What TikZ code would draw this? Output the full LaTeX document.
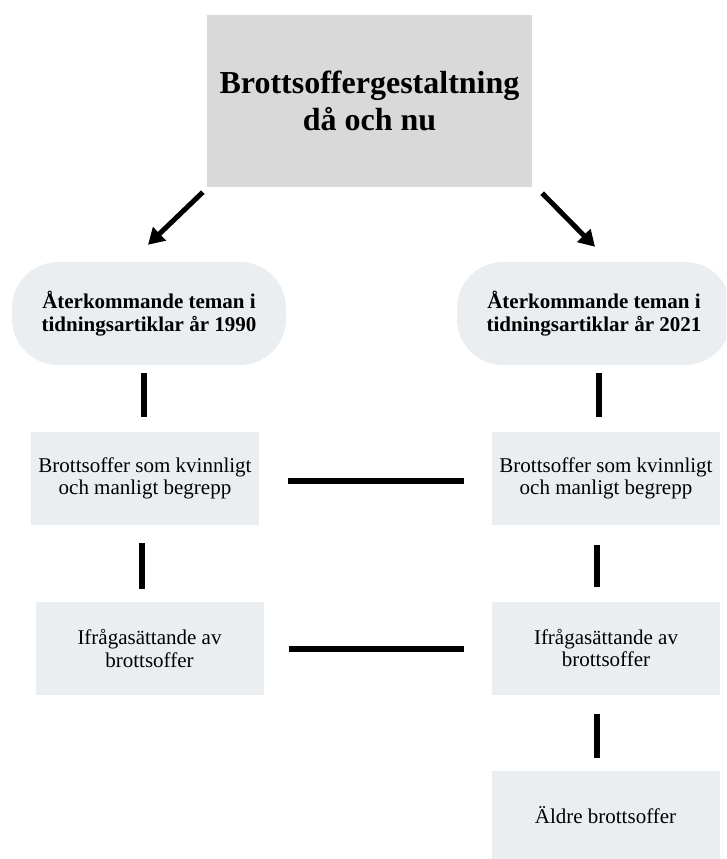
\documentclass[tikz,border=0pt]{standalone}
\usepackage{fontspec}
\setmainfont{Liberation Serif}
\usetikzlibrary{arrows.meta}
\definecolor{topgray}{RGB}{217,217,217}
\definecolor{lightbox}{RGB}{235,238,241}
\tikzset{
  titlebox/.style={fill=topgray, inner sep=0pt, minimum width=325pt, minimum height=172pt,
    align=center, font=\fontsize{32}{37}\selectfont\bfseries},
  pillbox/.style={fill=lightbox, rounded corners=46pt, inner sep=0pt, minimum width=274pt,
    minimum height=103pt, align=center, font=\fontsize{21}{22.5}\selectfont\bfseries},
  themebox/.style={fill=lightbox, inner sep=0pt, minimum width=228pt, minimum height=93pt,
    align=center, font=\fontsize{21}{22.5}\selectfont},
  conn/.style={line width=6pt},
  arr/.style={line width=5pt, -{Triangle[length=16pt,width=18pt]}}
}
\begin{document}
\begin{tikzpicture}[x=1pt,y=-1pt]
\useasboundingbox (0,0) rectangle (726,859);
\clip (0,0) rectangle (726,859);
\node[titlebox] (top) at (369.5,101) {Brottsoffergestaltning\\då och nu};
\node[pillbox] (L1) at (149,313.5) {Återkommande teman i\\tidningsartiklar år 1990};
\node[pillbox] (R1) at (594,313.5) {Återkommande teman i\\tidningsartiklar år 2021};
\node[themebox] (L2) at (145,478.5) {Brottsoffer som kvinnligt\\och manligt begrepp};
\node[themebox] (L3) at (149.5,648.5) {Ifrågasättande av\\brottsoffer};
\node[themebox] (R2) at (606,478.5) {Brottsoffer som kvinnligt\\och manligt begrepp};
\node[themebox] (R3) at (606,648) {Ifrågasättande av\\brottsoffer};
\node[themebox, minimum height=88pt] (R4) at (605.5,815) {Äldre brottsoffer};
% arrows from title
\draw[arr] ([xshift=-4pt,yshift=-5pt]top.south west) -- ([xshift=-1pt,yshift=17pt]L1.north);
\draw[arr] ([xshift=10pt,yshift=-6pt]top.south east) -- ([xshift=1pt,yshift=15pt]R1.north);
% vertical connectors
\draw[conn] ([xshift=-5pt,yshift=-8pt]L1.south) -- ([xshift=-1pt,yshift=15pt]L2.north);
\draw[conn] ([xshift=-3pt,yshift=-18pt]L2.south) -- ([xshift=-7.5pt,yshift=13pt]L3.north);
\draw[conn] ([xshift=5pt,yshift=-8pt]R1.south) -- ([xshift=-7pt,yshift=15pt]R2.north);
\draw[conn] ([xshift=-9pt,yshift=-20pt]R2.south) -- ([xshift=-9pt,yshift=14pt]R3.north);
\draw[conn] ([xshift=-9pt,yshift=-19pt]R3.south) -- ([xshift=-8.5pt,yshift=13pt]R4.north);
% horizontal connectors
\draw[conn] ([xshift=29pt,yshift=-2.5pt]L2.east) -- ([xshift=-28pt,yshift=-2.5pt]R2.west);
\draw[conn] ([xshift=25pt,yshift=-0.5pt]L3.east) -- ([xshift=-28pt,yshift=-1pt]R3.west);
\end{tikzpicture}
\end{document}
